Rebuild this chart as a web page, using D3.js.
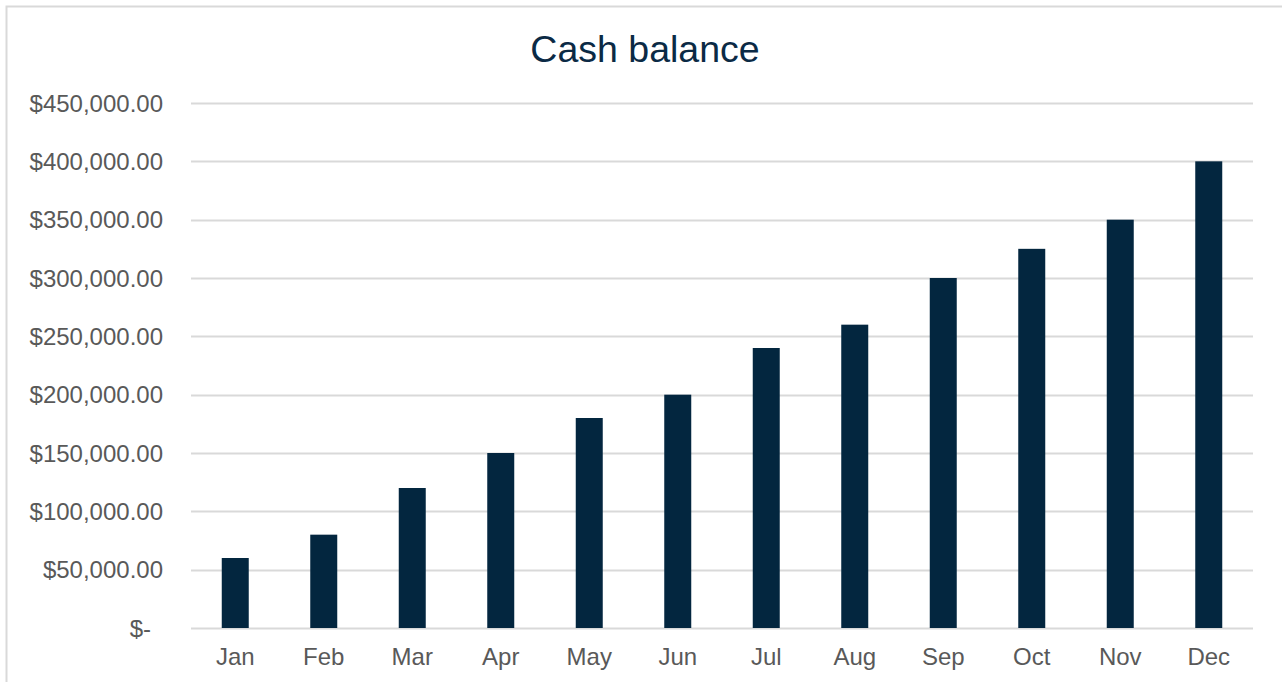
<!DOCTYPE html>
<html>
<head>
<meta charset="utf-8">
<script src="https://cdn.jsdelivr.net/npm/d3@7"></script>
<style>
  body { margin: 0; background: #fff; }
  text { font-family: "Liberation Sans", Arial, sans-serif; }
</style>
</head>
<body>
<div id="chart"></div>
<script>
var months = ["Jan", "Feb", "Mar", "Apr", "May", "Jun", "Jul", "Aug", "Sep", "Oct", "Nov", "Dec"];
var balance = [60000, 80000, 120000, 150000, 180000, 200000, 240000, 260000, 300000, 325000, 350000, 400000];
var yTicks = [0, 50000, 100000, 150000, 200000, 250000, 300000, 350000, 400000, 450000];

var width = 1282, height = 682;
var plot = { left: 191, right: 1253, top: 103, bottom: 628 };

var svg = d3.select("#chart").append("svg")
    .attr("width", width)
    .attr("height", height);

// chart frame
svg.append("rect")
    .attr("x", 6.5).attr("y", 6.5)
    .attr("width", width + 10).attr("height", height + 10)
    .attr("fill", "none")
    .attr("stroke", "#d9d9d9")
    .attr("stroke-width", 2);

var x = d3.scaleBand()
    .domain(months)
    .range([plot.left, plot.right]);

var y = d3.scaleLinear()
    .domain([0, 450000])
    .range([plot.bottom, plot.top]);

var fmt = function (v) {
    return v === 0 ? "$-" : "$" + d3.format(",.2f")(v);
};

// gridlines
svg.append("g").selectAll("line")
    .data(yTicks)
    .enter().append("line")
    .attr("x1", plot.left).attr("x2", plot.right)
    .attr("y1", function (d) { return Math.round(y(d)) + 0.5; })
    .attr("y2", function (d) { return Math.round(y(d)) + 0.5; })
    .attr("stroke", "#d9d9d9")
    .attr("stroke-width", 2);

// y labels
svg.append("g").selectAll("text")
    .data(yTicks)
    .enter().append("text")
    .attr("x", function (d) { return d === 0 ? 151 : 163; })
    .attr("y", function (d) { return y(d); })
    .attr("dy", "0.36em")
    .attr("text-anchor", "end")
    .attr("font-size", "24px")
    .attr("fill", "#595959")
    .text(fmt);

// bars
var barW = x.bandwidth() * 0.305;
svg.append("g").selectAll("rect")
    .data(balance)
    .enter().append("rect")
    .attr("x", function (d, i) { return x(months[i]) + x.bandwidth() / 2 - barW / 2; })
    .attr("y", function (d) { return y(d); })
    .attr("width", barW)
    .attr("height", function (d) { return y(0) - y(d); })
    .attr("fill", "#03263f");

// x labels
svg.append("g").selectAll("text")
    .data(months)
    .enter().append("text")
    .attr("x", function (d) { return x(d) + x.bandwidth() / 2; })
    .attr("y", 665)
    .attr("text-anchor", "middle")
    .attr("font-size", "24px")
    .attr("fill", "#595959")
    .text(function (d) { return d; });

// title
svg.append("text")
    .attr("x", 645)
    .attr("y", 62)
    .attr("text-anchor", "middle")
    .attr("font-size", "37.5px")
    .attr("fill", "#0b2a45")
    .text("Cash balance");
</script>
</body>
</html>
